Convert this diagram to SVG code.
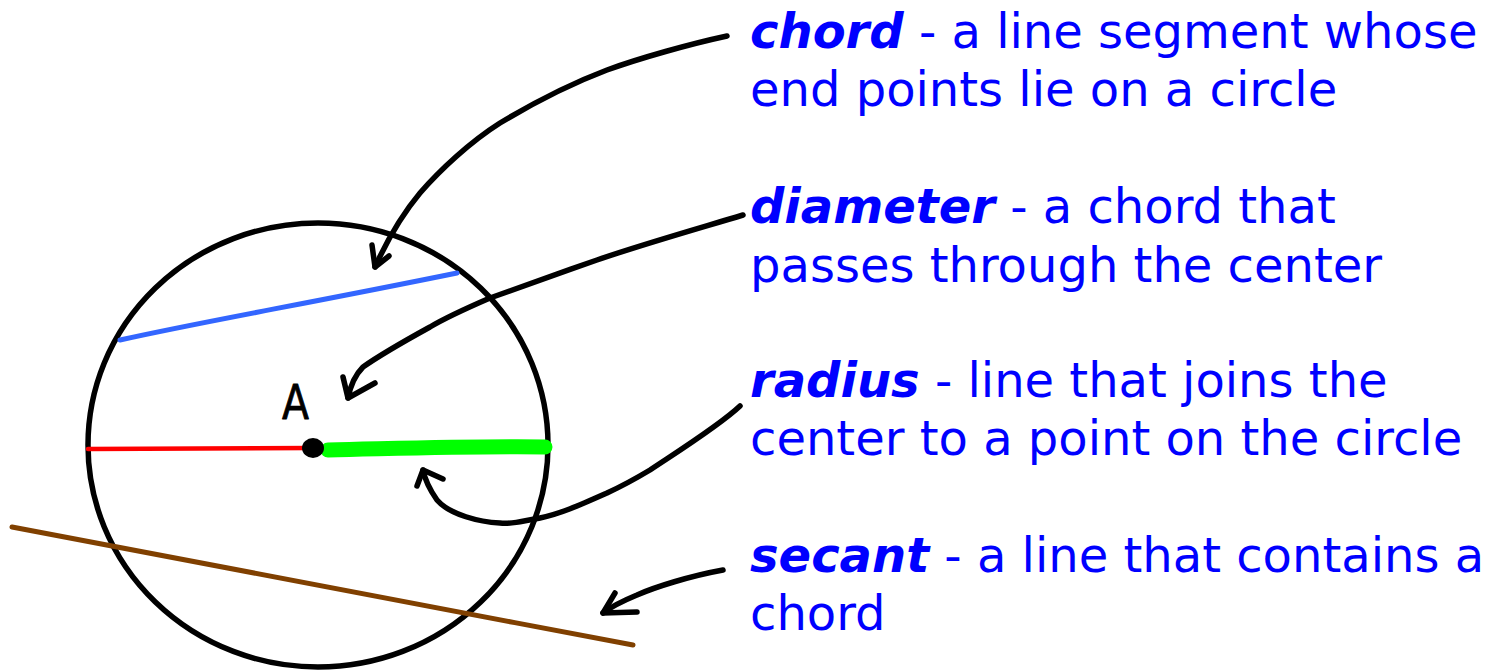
<svg xmlns="http://www.w3.org/2000/svg" width="1499" height="671" viewBox="0 0 1499 671">
<style>
.t{font-family:"DejaVu Sans","Verdana",sans-serif;font-size:48px;fill:#0000ff}
.b{font-weight:bold;font-style:italic}
.arr{fill:none;stroke:#000;stroke-width:5.5;stroke-linecap:round;stroke-linejoin:round}
</style>
<rect width="1499" height="671" fill="#fff"/>
<g id="circle">
<ellipse cx="318" cy="445" rx="230" ry="222" fill="none" stroke="#000" stroke-width="5.5"/>
</g>
<g id="chord-line">
<path d="M120,340 C200,322 300,305 457,273" fill="none" stroke="#3366ff" stroke-width="5" stroke-linecap="round"/>
</g>
<g id="secant-line">
<path d="M12,527 C200,562 420,605 633,645" fill="none" stroke="#804000" stroke-width="5" stroke-linecap="round"/>
</g>
<g id="red-radius">
<path d="M88,449 L313,448" fill="none" stroke="#ff0000" stroke-width="4.5" stroke-linecap="round"/>
</g>
<g id="green-radius">
<path d="M328,450 C420,448 480,446 545,447" fill="none" stroke="#00ff00" stroke-width="15" stroke-linecap="round"/>
</g>
<g id="center">
<ellipse cx="313" cy="448" rx="11" ry="10" fill="#000"/>
<text x="282" y="419" font-family="DejaVu Sans, sans-serif" font-size="48" textLength="27" lengthAdjust="spacingAndGlyphs" fill="#000" stroke="#000" stroke-width="0.8" stroke-linejoin="round">A</text>
</g>
<g id="connectors">
<path class="arr" d="M727,36 C690,44 640,58 607,70 C570,84 530,105 500,123 C470,142 440,170 420,193 C400,217 385,245 375,267"/>
<path class="arr" d="M372,245 L375,267 L389,256"/>
<path class="arr" d="M743,215 C700,228 640,245 597,260 C560,273 520,287 490,298 C460,311 445,318 430,327 C410,338 380,355 363,367 C355,375 350,388 348,398"/>
<path class="arr" d="M343,377 L348,398 L375,383"/>
<path class="arr" d="M740,406 C720,425 680,450 650,470 C630,482 620,487 607,493 C580,505 560,514 540,518 C520,522 510,524 500,523 C480,522 450,515 437,500 C430,490 425,480 423,470"/>
<path class="arr" d="M417,486 L423,470 L443,479"/>
<path class="arr" d="M723,570 C690,576 655,587 637,595 C625,600 612,606 603,613"/>
<path class="arr" d="M615,593 L603,613 L637,612"/>
</g>
<g id="label-chord">
<text class="t" x="750" y="48"><tspan class="b">chord</tspan> - a line segment whose</text>
<text class="t" x="750" y="106">end points lie on a circle</text>
</g>
<g id="label-diameter">
<text class="t" x="750" y="223"><tspan class="b">diameter</tspan> - a chord that</text>
<text class="t" x="750" y="282">passes through the center</text>
</g>
<g id="label-radius">
<text class="t" x="750" y="397"><tspan class="b">radius</tspan> - line that joins the</text>
<text class="t" x="750" y="455">center to a point on the circle</text>
</g>
<g id="label-secant">
<text class="t" x="750" y="572"><tspan class="b">secant</tspan> - a line that contains a</text>
<text class="t" x="750" y="630">chord</text>
</g>
</svg>
